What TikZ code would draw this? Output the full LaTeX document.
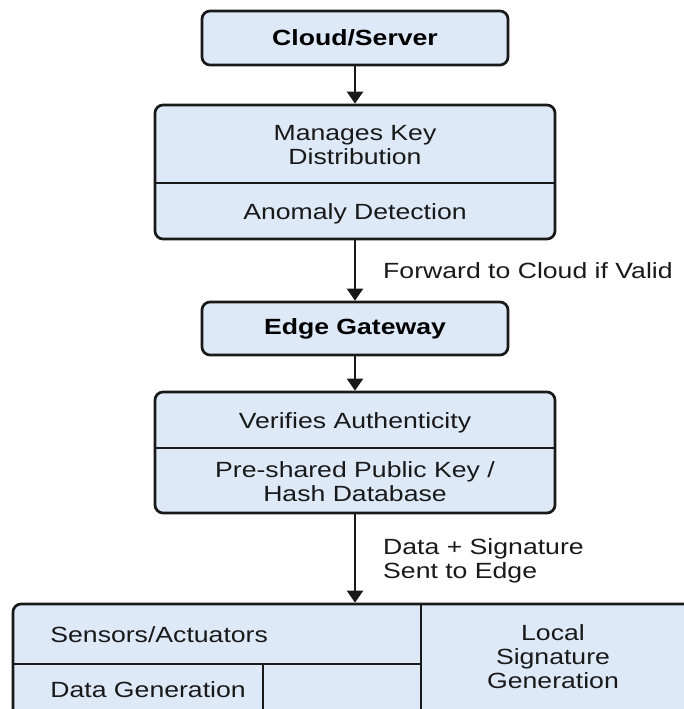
\documentclass[tikz,border=0pt]{standalone}
\usepackage{fontspec}
\newfontfamily\diagfont{Liberation Sans}[FakeStretch=1.21]
\usepackage{tikz}
\usetikzlibrary{arrows.meta, positioning}
\usepackage{xcolor}
\definecolor{panelfill}{RGB}{222,233,248}
\definecolor{ink}{RGB}{25,25,25}

\begin{document}
\begin{tikzpicture}[
      x=0.5pt, y=-0.5pt,
      font=\diagfont\fontsize{11}{11.8}\selectfont,
      panel/.style={draw=ink, fill=panelfill, line width=1.35pt, rounded corners=4pt, inner sep=0pt},
      divider/.style={draw=ink, line width=1.35pt},
      arrow/.style={-{Triangle[length=6pt, width=8pt]}, line width=1.2pt, draw=ink},
      txt/.style={anchor=base, inner sep=0pt, text=ink, align=center},
      sidenote/.style={anchor=west, inner sep=0pt, text=ink, align=left, xshift=13.5pt}
    ]

    \useasboundingbox (0,0) rectangle (684,709);
    \clip (0,0) rectangle (684,709);

    % Boxes
    \node[panel, minimum width=153pt, minimum height=27pt] (cloud) at (355,38) {\bfseries Cloud/Server};
    \node[panel, minimum width=200pt, minimum height=67pt] (keys) at (355,172) {};
    \node[panel, minimum width=153pt, minimum height=26.5pt] (edge) at (355,328.5) {\bfseries Edge Gateway};
    \node[panel, minimum width=200pt, minimum height=60.5pt] (verify) at (355,452.5) {};
    \node[panel, minimum width=380pt, minimum height=90pt] (device) at (393,694) {};

    % Dividers
    \draw[divider] (keys.west |- 0,183) -- (keys.east |- 0,183);
    \draw[divider] (verify.west |- 0,448) -- (verify.east |- 0,448);
    \draw[divider] (device.west |- 0,664) -- (421,664);
    \draw[divider] (421,0 |- device.north) -- (421,760);
    \draw[divider] (263,664) -- (263,760);

    % Box texts (base = last line)
    \node[txt] (keysTop) at (355,164) {Manages Key\\Distribution};
    \node[txt] (keysBottom) at (355,219) {Anomaly Detection};
    \node[txt] (verifyTop) at (355,428) {Verifies Authenticity};
    \node[txt] (verifyBottom) at (355,501) {Pre-shared Public Key /\\Hash Database};
    \node[txt, anchor=base west] (sensors) at (50,642) {Sensors/Actuators};
    \node[txt, anchor=base west] (dataGen) at (50,697) {Data Generation};
    \node[txt] (localSig) at (553,688) {Local\\Signature\\Generation};

    % Flow
    \draw[arrow] (cloud) -- (keys);
    \draw[arrow] (keys) -- node[sidenote] {Forward to Cloud if Valid} (edge);
    \draw[arrow] (edge) -- (verify);
    \draw[arrow] (verify) -- node[sidenote, yshift=-1.2pt] {Data + Signature\\Sent to Edge} (verify.south |- device.north);

  \end{tikzpicture}
\end{document}
